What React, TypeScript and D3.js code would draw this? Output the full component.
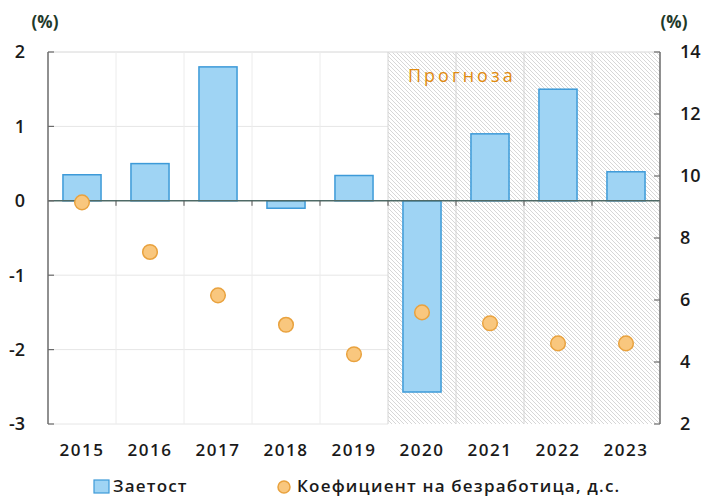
import React from "react";
import * as d3 from "d3";

const years = ["2015", "2016", "2017", "2018", "2019", "2020", "2021", "2022", "2023"];
const employment = [0.35, 0.5, 1.8, -0.1, 0.34, -2.57, 0.9, 1.5, 0.39];
const unemployment = [9.15, 7.55, 6.15, 5.2, 4.25, 5.6, 5.25, 4.6, 4.6];
const leftTicks = [2, 1, 0, -1, -2, -3];
const rightTicks = [14, 12, 10, 8, 6, 4, 2];
const forecastStart = "2020";

const W = 707, H = 498;
const L = 48, R = 660, T = 52, B = 424;
const FONT = "'Open Sans', sans-serif";

export default function App() {
  const x = d3.scaleBand().domain(years).range([L, R]).paddingInner(0).paddingOuter(0);
  const yL = d3.scaleLinear().domain([-3, 2]).range([B, T]);
  const yR = d3.scaleLinear().domain([2, 14]).range([B, T]);
  const bw = x.bandwidth();
  const barW = bw * 0.56;
  const fx = x(forecastStart)!;

  return (
    <svg width={W} height={H} style={{ position: "absolute", left: 0, top: 0, background: "#fff" }}>
      <defs>
        <pattern id="hatch" width="4" height="4" patternUnits="userSpaceOnUse">
          <path d="M-1,-1 L5,5 M-1,3 L1,5 M3,-1 L5,1" stroke="#c6c6c6" strokeWidth="0.7" />
        </pattern>
      </defs>
      <rect x={0} y={0} width={W} height={H} fill="#fff" />
      {/* forecast area */}
      <rect x={fx} y={T} width={R - fx} height={B - T} fill="url(#hatch)" />
      {/* gridlines */}
      {leftTicks.filter(t => t !== 0).map(t => (
        <line key={"h" + t} x1={L} x2={t < 2 ? fx : R} y1={yL(t)} y2={yL(t)} stroke="#e6e6e6" strokeWidth={1} />
      ))}
      <line x1={L} x2={R} y1={T} y2={T} stroke="#e2e2e2" strokeWidth={1} />
      {years.slice(1).map(yr => (
        <line key={"v" + yr} x1={x(yr)!} x2={x(yr)!} y1={T} y2={B} stroke={x(yr)! >= fx ? "#d4d4d4" : "#ececec"} strokeWidth={1} />
      ))}
      {/* bars */}
      {years.map((yr, i) => {
        const v = employment[i];
        const y0 = yL(0), y1 = yL(v);
        return (
          <rect key={"b" + yr} x={x(yr)! + (bw - barW) / 2} y={Math.min(y0, y1)} width={barW}
            height={Math.abs(y1 - y0)} fill="#9fd4f4" stroke="#3d9ad8" strokeWidth={1.5} />
        );
      })}
      {/* zero line */}
      <line x1={L} x2={R} y1={yL(0)} y2={yL(0)} stroke="#4f6a66" strokeWidth={1.5} />
      {years.slice(1).map(yr => (
        <line key={"zt" + yr} x1={x(yr)!} x2={x(yr)!} y1={yL(0)} y2={yL(0) + 5} stroke="#555" strokeWidth={1} />
      ))}
      {/* dots */}
      {years.map((yr, i) => (
        <circle key={"d" + yr} cx={x(yr)! + bw / 2} cy={yR(unemployment[i])} r={7.3}
          fill="#f9c77e" stroke="#e9a23e" strokeWidth={1.5} />
      ))}
      {/* axes */}
      <line x1={L} x2={L} y1={T} y2={B} stroke="#6b6b6b" strokeWidth={1.5} />
      {leftTicks.map(t => (
        <g key={"lt" + t}>
          <line x1={L} x2={L + 6} y1={yL(t)} y2={yL(t)} stroke="#6b6b6b" strokeWidth={1.2} />
          <text x={25} y={yL(t)} dy="0.36em" textAnchor="end" fontFamily={FONT} fontWeight={600} fontSize={18} fill="#1a1a1a">{t}</text>
        </g>
      ))}
      <line x1={R} x2={R} y1={T} y2={B} stroke="#6b6b6b" strokeWidth={1.5} />
      {rightTicks.map(t => (
        <g key={"rt" + t}>
          <line x1={R - 6} x2={R} y1={yR(t)} y2={yR(t)} stroke="#6b6b6b" strokeWidth={1.2} />
          <text x={680} y={yR(t)} dy="0.36em" textAnchor="start" fontFamily={FONT} fontWeight={600} fontSize={18} fill="#1a1a1a">{t}</text>
        </g>
      ))}
      {years.map(yr => (
        <text key={"x" + yr} x={x(yr)! + bw / 2} y={456} textAnchor="middle" fontFamily={FONT} fontWeight={600}
          fontSize={17} letterSpacing={1.5} fill="#1a1a1a">{yr}</text>
      ))}
      <text x={45} y={28} textAnchor="middle" fontFamily={FONT} fontWeight={700} fontSize={17} fill="#1f3a2a">(%)</text>
      <text x={674} y={28} textAnchor="middle" fontFamily={FONT} fontWeight={700} fontSize={17} fill="#1f3a2a">(%)</text>
      <text x={408} y={82} fontFamily={FONT} fontWeight={500} fontSize={18} letterSpacing={3} fill="#e08b10">Прогноза</text>
      {/* legend */}
      <rect x={94} y={480} width={15} height={13} fill="#9fd4f4" stroke="#3d9ad8" strokeWidth={1.2} />
      <text x={113} y={492} fontFamily={FONT} fontWeight={600} fontSize={17} letterSpacing={1.2} fill="#1a1a1a">Заетост</text>
      <circle cx={284} cy={487} r={6} fill="#f9c77e" stroke="#e9a23e" strokeWidth={1.5} />
      <text x={297} y={492} fontFamily={FONT} fontWeight={600} fontSize={17} letterSpacing={1.2} fill="#1a1a1a">Коефициент на безработица, д.с.</text>
    </svg>
  );
}
